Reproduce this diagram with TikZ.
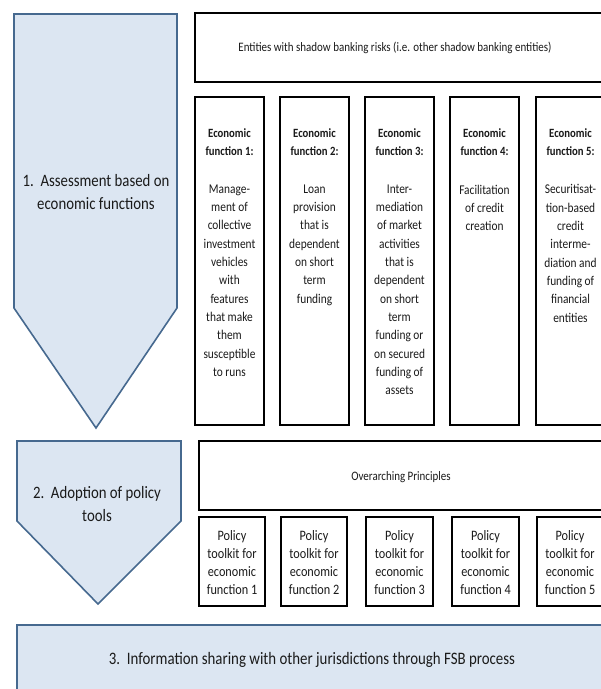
\documentclass[tikz,border=0pt]{standalone}
\usepackage{fontspec}
\setmainfont{Carlito}[FakeStretch=0.85]
\definecolor{arrowfill}{HTML}{DCE6F2}
\definecolor{arrowdraw}{HTML}{46698F}
\definecolor{txt}{HTML}{1A1A1A}
\begin{document}
\begin{tikzpicture}[x=1pt,y=-1pt,
  blackbox/.style={draw=black,line width=2.4pt,fill=white},
  bluebox/.style={draw=arrowdraw,line width=1.6pt,fill=arrowfill},
  head/.style={font=\fontsize{12.6}{18}\selectfont\bfseries,align=center,inner sep=0pt,text=txt},
  body/.style={font=\fontsize{13.4}{18.3}\selectfont,align=center,inner sep=0pt,anchor=north,text=txt},
  tool/.style={font=\fontsize{14.4}{17.8}\selectfont,align=center,inner sep=0pt,text=txt},
  big/.style={font=\fontsize{17.4}{23}\selectfont,align=center,inner sep=0pt,text=txt}]
\useasboundingbox (0,0) rectangle (601,689);
\clip (0,0) rectangle (601,689);
% arrows
\draw[bluebox,line join=miter] (14,14) -- (177,14) -- (177,308) -- (96,428) -- (14,308) -- cycle;
\node[big] (a1) at (96,192) {1.\ \ Assessment based on\\economic functions};
\draw[bluebox,line join=miter] (17,441) -- (181,441) -- (181,521) -- (98,604) -- (17,521) -- cycle;
\node[big] (a2) at (97,504) {2.\ \ Adoption of policy\\tools};
% bottom box
\draw[bluebox] (17,625) rectangle (640,720);
\node[font=\fontsize{17.5}{18}\selectfont,inner sep=0pt,text=txt] (a3) at (312,660) {3.\ \ Information sharing with other jurisdictions through FSB process};
% top box
\draw[blackbox] (195,13) rectangle (640,82);
\node[font=\fontsize{12.9}{12}\selectfont,inner sep=0pt,text=txt] (ent) at (395,47.5) {Entities with shadow banking risks (i.e. other shadow banking entities)};
% function boxes
\foreach \l/\r/\n in {195/264/1,280/349/2,365/434/3,450/519/4,536/605/5}{
  \draw[blackbox] (\l,97) rectangle (\r,425);
  \node[head] (h\n) at ({(\l+\r)/2},142.5) {Economic\\function \n:};
}
\node[body] (b1) at (229.5,184.5) {Manage-\\ment of\\collective\\investment\\vehicles\\with\\features\\that make\\them\\susceptible\\to runs};
\node[body] (b2) at (314.5,184.5) {Loan\\provision\\that is\\dependent\\on short\\term\\funding};
\node[body] (b3) at (399.5,184.5) {Inter-\\mediation\\of market\\activities\\that is\\dependent\\on short\\term\\funding or\\on secured\\funding of\\assets};
\node[body] (b4) at (484.5,184.5) {Facilitation\\of credit\\creation};
\node[body] (b5) at (570.5,184.5) {Securitisat-\\tion-based\\credit\\interme-\\diation and\\funding of\\financial\\entities};
% overarching
\draw[blackbox] (199,441) rectangle (640,510);
\node[font=\fontsize{12.9}{12}\selectfont,inner sep=0pt,text=txt] (op) at (401,477) {Overarching Principles};
% policy toolkits
\foreach \l/\r/\n in {199/265/1,281/347/2,366/433/3,452/519/4,537/603/5}{
  \draw[black,line width=2.2pt,fill=white] (\l,517) rectangle (\r,606);
  \node[tool] (p\n) at ({(\l+\r)/2},562.5) {Policy\\toolkit for\\economic\\function \n};
}
\end{tikzpicture}
\end{document}
